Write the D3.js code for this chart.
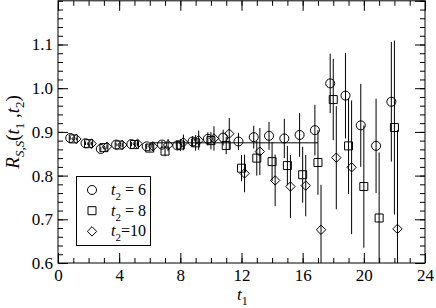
<!DOCTYPE html>
<html>
<head>
<meta charset="utf-8">
<script src="https://cdn.jsdelivr.net/npm/d3@7"></script>
<style>
  body { margin: 0; background: #fff; }
  svg { display: block; }
  svg text { font-family: "Liberation Serif", "Times New Roman", "DejaVu Serif", serif; fill: #000; }
  .tick text { font-size: 17px; }
  .tick line { stroke: #000; }
</style>
</head>
<body>
<svg id="chart" width="436" height="308"></svg>
<script>
// t1 values, one group per integer time slice
const t1 = [1, 2, 3, 4, 5, 6, 7, 8, 9, 10, 11, 12, 13, 14, 15, 16, 17, 18, 19, 20, 21, 22];

// t2 = 6 (circles)
const r6 = [0.886, 0.874, 0.861, 0.871, 0.872, 0.867, 0.871, 0.869, 0.878, 0.884, 0.887, 0.878,
            0.888, 0.891, 0.885, 0.893, 0.904, 1.011, 0.983, 0.915, 0.868, 0.969];
const e6 = [0.004, 0.004, 0.004, 0.004, 0.005, 0.006, 0.008, 0.010, 0.012, 0.015, 0.018, 0.020,
            0.026, 0.032, 0.045, 0.050, 0.058, 0.068, 0.098, 0.095, 0.108, 0.137];

// t2 = 8 (squares)
const r8 = [0.884, 0.873, 0.864, 0.870, 0.871, 0.863, 0.856, 0.870, 0.875, 0.880, 0.869, 0.817,
            0.840, 0.832, 0.823, 0.802, 0.830, 0.974, 0.868, 0.775, 0.703, 0.910];
const e8 = [0.003, 0.003, 0.004, 0.004, 0.005, 0.008, 0.012, 0.014, 0.018, 0.020, 0.020, 0.030,
            0.040, 0.045, 0.045, 0.064, 0.074, 0.093, 0.110, 0.140, 0.150, 0.199];

// t2 = 10 (diamonds), nothing shown at t1 = 20, 21
const r10 = [0.884, 0.873, 0.866, 0.870, 0.873, 0.867, 0.870, 0.876, 0.881, 0.885, 0.896, 0.805,
             0.855, 0.789, 0.775, 0.777, 0.676, 0.841, 0.819, null, null, 0.678];
const e10 = [0.003, 0.004, 0.005, 0.005, 0.006, 0.010, 0.014, 0.018, 0.022, 0.028, 0.036, 0.043,
             0.054, 0.059, 0.072, 0.070, 0.103, 0.118, 0.153, null, null, 0.226];

// plateau fit
const fitRange = [6, 17];
const fitValue = 0.875;

const xTicks = [0, 4, 8, 12, 16, 20, 24];
const yTicks = [0.6, 0.7, 0.8, 0.9, 1.0, 1.1];

const serif = '"Liberation Serif", "Times New Roman", serif';

const svg = d3.select('#chart');

const x = d3.scaleLinear().domain([0, 24]).range([58, 425]);
const y = d3.scaleLinear().domain([0.6, 1.2]).range([263, 0.8]);

// square turned by 45 degrees, same width as height
const diamond = {
    draw(ctx, size) {
        const r = Math.sqrt(size / 2);
        ctx.moveTo(0, -r);
        ctx.lineTo(r, 0);
        ctx.lineTo(0, r);
        ctx.lineTo(-r, 0);
        ctx.closePath();
    }
};

const series = [
    {label: '6',  vals: r6,  errs: e6,  shift: -0.2, sym: d3.symbolCircle, size: 64},
    {label: '8',  vals: r8,  errs: e8,  shift: 0,    sym: d3.symbolSquare, size: 64},
    {label: '10', vals: r10, errs: e10, shift: 0.2,  sym: diamond,         size: 44}
];

svg.append('clipPath').attr('id', 'clip')
    .append('rect')
    .attr('x', x(0)).attr('y', y(1.2))
    .attr('width', x(24) - x(0)).attr('height', y(0.6) - y(1.2));

const plot = svg.append('g').attr('clip-path', 'url(#clip)');

// fit line
plot.append('line')
    .attr('x1', x(fitRange[0])).attr('x2', x(fitRange[1]))
    .attr('y1', y(fitValue)).attr('y2', y(fitValue))
    .attr('stroke', '#000').attr('stroke-width', 1);

series.forEach((s) => {
    const pts = t1.map((t, i) => ({t: t + s.shift, v: s.vals[i], e: s.errs[i]}))
        .filter((d) => d.v !== null);

    // error bars (no caps)
    plot.append('g').selectAll('line')
        .data(pts)
        .join('line')
        .attr('x1', (d) => x(d.t)).attr('x2', (d) => x(d.t))
        .attr('y1', (d) => y(d.v - d.e)).attr('y2', (d) => y(d.v + d.e))
        .attr('stroke', '#000').attr('stroke-width', 1);

    const sym = d3.symbol().type(s.sym).size(s.size);
    plot.append('g').selectAll('path')
        .data(pts)
        .join('path')
        .attr('transform', (d) => `translate(${x(d.t)},${y(d.v)})`)
        .attr('d', sym)
        .attr('fill', 'none')
        .attr('stroke', '#000').attr('stroke-width', 1);
});

// axes, all ticks inward
const minorX = d3.range(0, 25, 1);
const minorY = d3.range(0.6, 1.2001, 0.02);

function addAxis(axis, transform) {
    const g = svg.append('g').attr('transform', transform).call(axis);
    g.attr('font-family', serif).attr('font-size', 17);
    g.selectAll('text').attr('font-family', serif);
    g.select('.domain').remove();
    return g;
}

addAxis(d3.axisBottom(x).tickValues(minorX).tickSize(-5).tickFormat(''), `translate(0,${y(0.6)})`);
addAxis(d3.axisBottom(x).tickValues(xTicks).tickSize(-10).tickPadding(6).tickFormat(d3.format('d')), `translate(0,${y(0.6)})`);
addAxis(d3.axisTop(x).tickValues(minorX).tickSize(-5).tickFormat(''), `translate(0,${y(1.2)})`);
addAxis(d3.axisTop(x).tickValues(xTicks).tickSize(-10).tickFormat(''), `translate(0,${y(1.2)})`);

addAxis(d3.axisLeft(y).tickValues(minorY).tickSize(-5).tickFormat(''), `translate(${x(0)},0)`);
addAxis(d3.axisLeft(y).tickValues(yTicks).tickSize(-10).tickPadding(5).tickFormat(d3.format('.1f')), `translate(${x(0)},0)`);
addAxis(d3.axisRight(y).tickValues(minorY).tickSize(-5).tickFormat(''), `translate(${x(24)},0)`);
addAxis(d3.axisRight(y).tickValues(yTicks.concat([1.2])).tickSize(-10).tickFormat(''), `translate(${x(24)},0)`);

// frame
svg.append('rect')
    .attr('x', x(0)).attr('y', y(1.2))
    .attr('width', x(24) - x(0)).attr('height', y(0.6) - y(1.2))
    .attr('fill', 'none').attr('stroke', '#000').attr('stroke-width', 1);

// x title
const xt = svg.append('text').attr('x', 237).attr('y', 300)
    .attr('font-family', serif).style('font-size', '17px');
xt.append('tspan').attr('font-style', 'italic').text('t');
xt.append('tspan').attr('dy', 5).style('font-size', '12px').text('1');

// y title, centred on the plot height
const yt = svg.append('text')
    .attr('transform', `translate(19,${(y(0.6) + y(1.2)) / 2}) rotate(-90)`)
    .attr('text-anchor', 'middle')
    .attr('font-family', serif).style('font-size', '19px');
yt.append('tspan').attr('font-style', 'italic').text('R');
yt.append('tspan').attr('dy', 5).attr('font-style', 'italic').style('font-size', '13px').text('S,S');
yt.append('tspan').attr('dy', -5).text('(');
yt.append('tspan').attr('font-style', 'italic').text('t');
yt.append('tspan').attr('dy', 5).style('font-size', '13px').text('1');
yt.append('tspan').attr('dy', -5).text(' ,');
yt.append('tspan').attr('font-style', 'italic').text('t');
yt.append('tspan').attr('dy', 5).style('font-size', '13px').text('2');
yt.append('tspan').attr('dy', -5).text(')');

// legend
const lg = svg.append('g');
lg.append('rect')
    .attr('x', 76.5).attr('y', 176.5).attr('width', 74).attr('height', 69)
    .attr('fill', '#fff').attr('stroke', '#000').attr('stroke-width', 1);

series.forEach((s, i) => {
    const cy = 190 + i * 20.7;
    lg.append('path')
        .attr('transform', `translate(92,${cy})`)
        .attr('d', d3.symbol().type(s.sym).size(s.size)())
        .attr('fill', 'none').attr('stroke', '#000');
    const t = lg.append('text').attr('x', 111).attr('y', cy + 5)
        .attr('font-family', serif).style('font-size', '16px');
    t.append('tspan').attr('font-style', 'italic').text('t');
    t.append('tspan').attr('dy', 5).style('font-size', '11px').text('2');
    t.append('tspan').attr('dy', -5).text(s.label === '10' ? '=10' : ' = ' + s.label);
});
</script>
</body>
</html>
